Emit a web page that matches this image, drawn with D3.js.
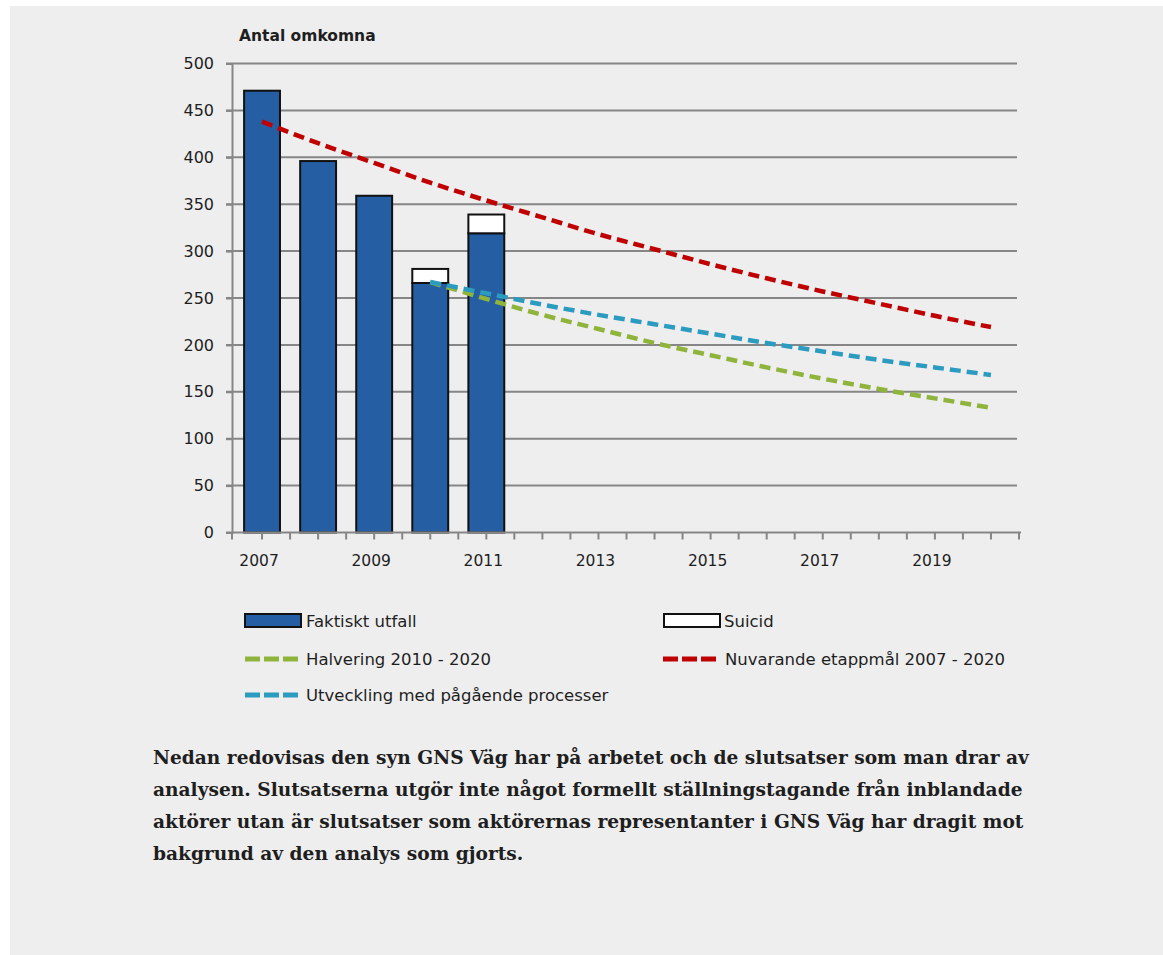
<!DOCTYPE html>
<html>
<head>
<meta charset="utf-8">
<script src="https://cdn.jsdelivr.net/npm/d3@7"></script>
<style>
  html, body { margin: 0; padding: 0; background: #ffffff; }
  svg { display: block; }
</style>
</head>
<body>
<svg id="chart" width="1163" height="955"></svg>
<script>
// Road deaths per year, with the suicide share stacked on top
const years = [2007, 2008, 2009, 2010, 2011, 2012, 2013, 2014, 2015, 2016, 2017, 2018, 2019, 2020];
const actualYears = [2007, 2008, 2009, 2010, 2011];
const actualValues = [471, 396, 359, 266, 319];
const suicideValues = [0, 0, 0, 15, 20];

// Target trajectories
const currentTargetYears = [2007, 2008, 2009, 2010, 2011, 2012, 2013, 2014, 2015, 2016, 2017, 2018, 2019, 2020];
const currentTargetValues = [438, 415, 394, 373, 354, 336, 318, 302, 286, 271, 257, 244, 231, 219];
const halvingYears = [2010, 2011, 2012, 2013, 2014, 2015, 2016, 2017, 2018, 2019, 2020];
const halvingValues = [267, 249, 232, 217, 202, 189, 176, 164, 153, 143, 133];
const ongoingYears = [2010, 2011, 2012, 2013, 2014, 2015, 2016, 2017, 2018, 2019, 2020];
const ongoingValues = [267, 255, 243, 232, 222, 212, 202, 193, 184, 176, 168];

const yTicks = [0, 50, 100, 150, 200, 250, 300, 350, 400, 450, 500];
const xTickLabels = [2007, 2009, 2011, 2013, 2015, 2017, 2019];

const bodyText = [
  "Nedan redovisas den syn GNS Väg har på arbetet och de slutsatser som man drar av",
  "analysen. Slutsatserna utgör inte något formellt ställningstagande från inblandade",
  "aktörer utan är slutsatser som aktörernas representanter i GNS Väg har dragit mot",
  "bakgrund av den analys som gjorts."
];

const colors = {
  panel: "#eeeeee",
  bar: "#255ea3",
  red: "#c00000",
  green: "#8fb43c",
  blue: "#2b9bc0",
  grid: "#868686",
  text: "#1e1e1e"
};

const svg = d3.select("#chart");
svg.append("rect").attr("x", 10).attr("y", 6).attr("width", 1153).attr("height", 949).attr("fill", colors.panel);

const plot = { left: 232, right: 1017, top: 63.5, bottom: 532.5 };

const x = d3.scaleBand().domain(years).range([plot.left + 2, plot.right + 2]).paddingInner(0.36).paddingOuter(0.18);
const xc = d => x(d) + x.bandwidth() / 2;
const y = d3.scaleLinear().domain([0, 500]).range([plot.bottom, plot.top]);

const sansFont = "'DejaVu Sans', Verdana, sans-serif";

// Horizontal gridlines
svg.append("g")
  .selectAll("line")
  .data(yTicks.filter(d => d > 0))
  .join("line")
  .attr("x1", plot.left - 6).attr("x2", plot.right)
  .attr("y1", d => y(d)).attr("y2", d => y(d))
  .attr("stroke", colors.grid).attr("stroke-width", 2);

// Y axis
const yAxis = svg.append("g")
  .attr("transform", `translate(${plot.left},0)`)
  .call(d3.axisLeft(y).tickValues(yTicks).tickSize(6).tickPadding(12));
yAxis.select(".domain").attr("stroke", colors.grid).attr("stroke-width", 2);
yAxis.selectAll(".tick line").attr("stroke", colors.grid).attr("stroke-width", 2);
yAxis.selectAll(".tick text")
  .attr("font-family", sansFont).attr("font-size", 16).attr("fill", colors.text);

// Bars: actual outcome
svg.append("g")
  .selectAll("rect")
  .data(actualYears.map((yr, i) => ({ yr, v: actualValues[i] })))
  .join("rect")
  .attr("x", d => x(d.yr))
  .attr("y", d => y(d.v))
  .attr("width", x.bandwidth())
  .attr("height", d => y(0) - y(d.v))
  .attr("fill", colors.bar)
  .attr("stroke", "#111").attr("stroke-width", 2);

// Bars: suicide share stacked on top
svg.append("g")
  .selectAll("rect")
  .data(actualYears.map((yr, i) => ({ yr, base: actualValues[i], v: suicideValues[i] })).filter(d => d.v > 0))
  .join("rect")
  .attr("x", d => x(d.yr))
  .attr("y", d => y(d.base + d.v))
  .attr("width", x.bandwidth())
  .attr("height", d => y(d.base) - y(d.base + d.v))
  .attr("fill", "#ffffff")
  .attr("stroke", "#111").attr("stroke-width", 2);

// X axis with ticks at category centres and boundaries
const xAxisG = svg.append("g").attr("transform", `translate(0,${plot.bottom})`);
xAxisG.append("line")
  .attr("x1", plot.left - 6).attr("x2", plot.right + 4)
  .attr("stroke", colors.grid).attr("stroke-width", 2);
const step = x.step();
const firstCentre = xc(years[0]);
const tickXs = [plot.left].concat(d3.range(0, years.length * 2).map(i => firstCentre + i * step / 2));
xAxisG.selectAll("line.tk")
  .data(tickXs)
  .join("line").attr("class", "tk")
  .attr("x1", d => d).attr("x2", d => d)
  .attr("y1", 0).attr("y2", 7)
  .attr("stroke", colors.grid).attr("stroke-width", 2);
xAxisG.selectAll("text")
  .data(xTickLabels)
  .join("text")
  .attr("x", d => xc(d) - 3)
  .attr("y", 33)
  .attr("text-anchor", "middle")
  .attr("font-family", sansFont).attr("font-size", 15.5).attr("fill", colors.text)
  .text(d => d);

// Dashed target lines
const line = d3.line().x(d => xc(d[0])).y(d => y(d[1])).curve(d3.curveMonotoneX);
const series = [
  { yrs: halvingYears, vals: halvingValues, color: colors.green },
  { yrs: ongoingYears, vals: ongoingValues, color: colors.blue },
  { yrs: currentTargetYears, vals: currentTargetValues, color: colors.red }
];
series.forEach(s => {
  svg.append("path")
    .datum(s.yrs.map((yr, i) => [yr, s.vals[i]]))
    .attr("d", line)
    .attr("fill", "none")
    .attr("stroke", s.color)
    .attr("stroke-width", 4.5)
    .attr("stroke-dasharray", "11,6");
});

// Axis title
svg.append("text")
  .attr("x", 239).attr("y", 41)
  .attr("font-family", sansFont).attr("font-weight", "bold").attr("font-size", 15.5).attr("fill", colors.text)
  .text("Antal omkomna");

// Legend
const legend = svg.append("g");
const legendItems = [
  { type: "bar", fill: colors.bar, label: "Faktiskt utfall", sx: 245, tx: 306, y: 621 },
  { type: "bar", fill: "#ffffff", label: "Suicid", sx: 664, tx: 724, y: 621 },
  { type: "dash", color: colors.green, label: "Halvering 2010 - 2020", sx: 245, tx: 306, y: 659 },
  { type: "dash", color: colors.red, label: "Nuvarande etappmål 2007 - 2020", sx: 663, tx: 725, y: 659 },
  { type: "dash", color: colors.blue, label: "Utveckling med pågående processer", sx: 245, tx: 306, y: 695 }
];
legendItems.forEach(it => {
  if (it.type === "bar") {
    legend.append("rect")
      .attr("x", it.sx).attr("y", it.y - 7).attr("width", 56).attr("height", 13)
      .attr("fill", it.fill).attr("stroke", "#111").attr("stroke-width", 2);
  } else {
    legend.append("line")
      .attr("x1", it.sx).attr("x2", it.sx + 54)
      .attr("y1", it.y).attr("y2", it.y)
      .attr("stroke", it.color).attr("stroke-width", 5)
      .attr("stroke-dasharray", "15,4");
  }
  legend.append("text")
    .attr("x", it.tx).attr("y", it.y + 6)
    .attr("font-family", sansFont).attr("font-size", 16.5).attr("fill", colors.text)
    .text(it.label);
});

// Body text below the chart
svg.append("g")
  .selectAll("text")
  .data(bodyText)
  .join("text")
  .attr("x", 153)
  .attr("y", (d, i) => 764 + i * 32)
  .attr("font-family", "'DejaVu Serif', serif")
  .attr("font-weight", "bold")
  .attr("font-size", 18.6)
  .attr("fill", colors.text)
  .text(d => d);
</script>
</body>
</html>
